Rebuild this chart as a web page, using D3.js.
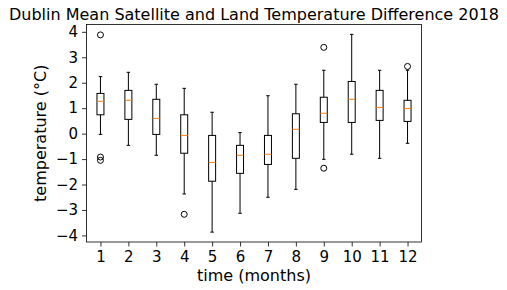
<!DOCTYPE html>
<html>
<head>
<meta charset="utf-8">
<script src="https://cdn.jsdelivr.net/npm/d3@7"></script>
<style>
body { margin: 0; background: #fff; }
svg { font-family: "DejaVu Sans", sans-serif; }
</style>
</head>
<body>
<svg id="chart" width="507" height="290"></svg>
<script>
// monthly box stats
var months   = [1, 2, 3, 4, 5, 6, 7, 8, 9, 10, 11, 12];
var whiskLo  = [-0.03, -0.46, -0.85, -2.37, -3.87, -3.13, -2.50, -2.19, -1.01, -0.81, -0.97, -0.38];
var q1       = [0.74, 0.56, -0.03, -0.77, -1.87, -1.56, -1.21, -0.97, 0.44, 0.44, 0.52, 0.48];
var medians  = [1.27, 1.31, 0.60, -0.07, -1.13, -0.85, -0.81, 0.17, 0.80, 1.35, 1.03, 0.99];
var q3       = [1.58, 1.70, 1.35, 0.74, -0.07, -0.46, -0.07, 0.78, 1.43, 2.05, 1.70, 1.31];
var whiskHi  = [2.24, 2.41, 1.94, 1.78, 0.84, 0.04, 1.49, 1.94, 2.49, 3.90, 2.49, 2.49];
var outliers = [[3.88, -0.92, -1.05], [], [], [-3.17], [], [], [], [], [3.39, -1.36], [], [], [2.64]];
var yTicks = [-4, -3, -2, -1, 0, 1, 2, 3, 4];

var svg = d3.select('#chart');
var margin = {left: 86.5, right: 85.5, top: 24.5, bottom: 48};
var W = +svg.attr('width'), H = +svg.attr('height');

var allVals = whiskLo.concat(whiskHi, d3.merge(outliers));
var lo = d3.min(allVals), hi = d3.max(allVals), pad = (hi - lo) * 0.05;

var x = d3.scaleLinear().domain([0.5, 12.5]).range([margin.left, W - margin.right]);
var y = d3.scaleLinear().domain([lo - pad, hi + pad]).range([H - margin.bottom, margin.top]);

var boxW = x(0.75) - x(0.5);
var capW = boxW / 2;

var data = months.map((m, i) => ({
    m: m, lo: whiskLo[i], q1: q1[i], med: medians[i], q3: q3[i], hi: whiskHi[i], out: outliers[i]
}));

var g = svg.append('g');
var boxes = g.selectAll('.box').data(data).enter().append('g').attr('class', 'box');

// whiskers
boxes.append('line')
    .attr('x1', d => x(d.m)).attr('x2', d => x(d.m))
    .attr('y1', d => y(d.q1)).attr('y2', d => y(d.lo))
    .attr('stroke', '#000').attr('stroke-width', 1);
boxes.append('line')
    .attr('x1', d => x(d.m)).attr('x2', d => x(d.m))
    .attr('y1', d => y(d.q3)).attr('y2', d => y(d.hi))
    .attr('stroke', '#000').attr('stroke-width', 1);
// caps
boxes.append('line')
    .attr('x1', d => x(d.m) - capW / 2).attr('x2', d => x(d.m) + capW / 2)
    .attr('y1', d => y(d.lo)).attr('y2', d => y(d.lo))
    .attr('stroke', '#000');
boxes.append('line')
    .attr('x1', d => x(d.m) - capW / 2).attr('x2', d => x(d.m) + capW / 2)
    .attr('y1', d => y(d.hi)).attr('y2', d => y(d.hi))
    .attr('stroke', '#000');
// box
boxes.append('rect')
    .attr('x', d => x(d.m) - boxW / 2)
    .attr('y', d => y(d.q3))
    .attr('width', boxW)
    .attr('height', d => y(d.q1) - y(d.q3))
    .attr('fill', 'none').attr('stroke', '#000');
// median
boxes.append('line')
    .attr('x1', d => x(d.m) - boxW / 2).attr('x2', d => x(d.m) + boxW / 2)
    .attr('y1', d => y(d.med)).attr('y2', d => y(d.med))
    .attr('stroke', '#ff7f0e');
// fliers
boxes.selectAll('circle').data(d => d.out.map(v => ({m: d.m, v: v}))).enter()
    .append('circle')
    .attr('cx', d => x(d.m)).attr('cy', d => y(d.v))
    .attr('r', 3)
    .attr('fill', 'none').attr('stroke', '#000').attr('stroke-width', 1);

// frame
svg.append('rect')
    .attr('x', margin.left).attr('y', margin.top)
    .attr('width', W - margin.left - margin.right)
    .attr('height', H - margin.top - margin.bottom)
    .attr('fill', 'none').attr('stroke', '#000').attr('stroke-width', 0.8);

var xAxis = svg.append('g')
    .attr('transform', `translate(0,${H - margin.bottom})`)
    .call(d3.axisBottom(x).tickValues(months).tickFormat(d3.format('d')).tickSizeOuter(0).tickSize(4.5).tickPadding(4.5));
var yAxis = svg.append('g')
    .attr('transform', `translate(${margin.left},0)`)
    .call(d3.axisLeft(y).tickValues(yTicks).tickFormat(d => d < 0 ? '\u2212' + Math.abs(d) : d).tickSizeOuter(0).tickSize(4.5).tickPadding(4));
[xAxis, yAxis].forEach(a => {
    a.select('.domain').remove();
    a.selectAll('text').style('font-size', '15px').attr('fill', '#000').style('font-family', '"DejaVu Sans", sans-serif');
    a.selectAll('line').attr('stroke', '#000').attr('stroke-width', 0.8);
});

svg.append('text').text('Dublin Mean Satellite and Land Temperature Difference 2018')
    .attr('x', (margin.left + W - margin.right) / 2).attr('y', 20)
    .attr('text-anchor', 'middle').style('font-size', '16px');
svg.append('text').text('time (months)')
    .attr('x', (margin.left + W - margin.right) / 2).attr('y', 281)
    .attr('text-anchor', 'middle').style('font-size', '16px');
svg.append('text').text('temperature (°C)')
    .attr('transform', `translate(46,${(margin.top + H - margin.bottom) / 2}) rotate(-90)`)
    .attr('text-anchor', 'middle').style('font-size', '16px');
</script>
</body>
</html>
